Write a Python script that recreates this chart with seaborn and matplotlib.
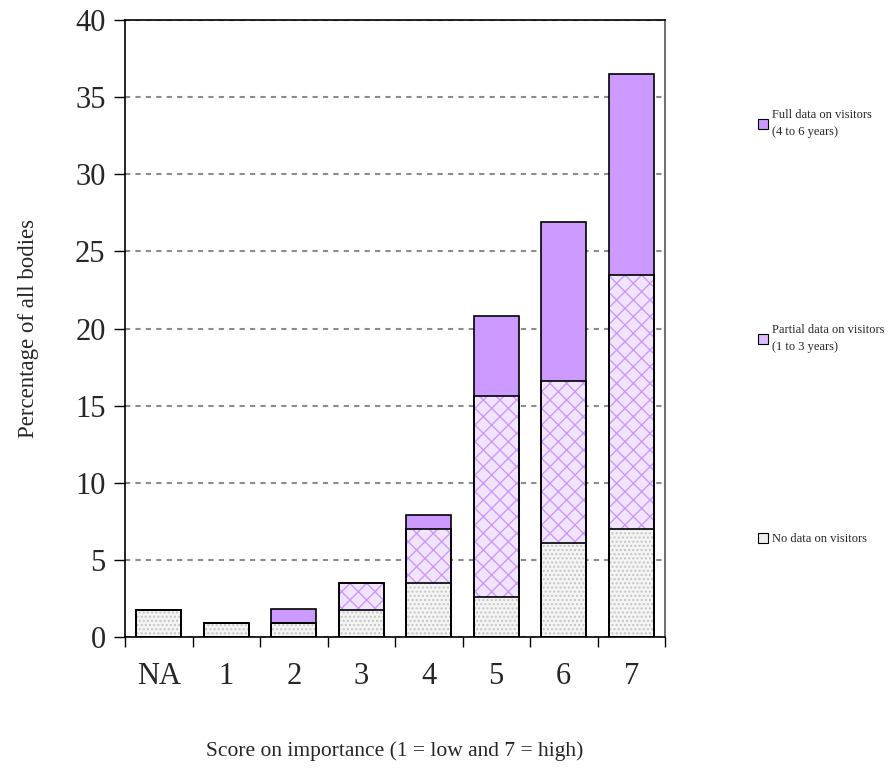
import pandas as pd
import seaborn as sns
from matplotlib import pyplot as plt
from matplotlib.patches import Patch

# values (percentage of all bodies)
scores = ["NA", "1", "2", "3", "4", "5", "6", "7"]
no_data = [1.75, 0.9, 0.9, 1.75, 3.5, 2.6, 6.1, 7.0]
partial_data = [0.0, 0.0, 0.0, 1.75, 3.5, 13.0, 10.5, 16.5]
full_data = [0.0, 0.0, 0.9, 0.0, 0.9, 5.2, 10.3, 13.0]

label_full = "Full data on visitors\n(4 to 6 years)"
label_partial = "Partial data on visitors\n(1 to 3 years)"
label_none = "No data on visitors"

sns.set_style("white")
plt.rcParams["font.family"] = ["Liberation Serif", "DejaVu Serif"]
plt.rcParams["hatch.linewidth"] = 1.0

df = pd.DataFrame({"score": scores, "none": no_data,
                   "partial": partial_data, "full": full_data})
df["top_partial"] = df["none"] + df["partial"]
df["top_full"] = df["top_partial"] + df["full"]

fig = plt.figure(figsize=(8.91, 7.78), dpi=100)
ax = fig.add_axes([125 / 891, 1 - 637 / 778, 540 / 891, 617 / 778])

bar_w = 0.66

# (column, facecolor, hatch, hatch colour) - tallest first so the shorter ones sit on top
layers = [
    ("top_full", "#CC99FF", None, "#CC99FF"),
    ("top_partial", "#F1E4FF", "xx", "#CC99FF"),
    ("none", "#F4F4F4", "....", "#C4C4C4"),
]

for col, face, hatch, hcol in layers:
    n0 = len(ax.patches)
    sns.barplot(data=df, x="score", y=col, order=scores, color=face,
                saturation=1, width=bar_w, ax=ax, errorbar=None)
    for p in ax.patches[n0:]:
        p.set_facecolor(face)
        p.set_edgecolor(hcol)
        p.set_linewidth(0)
        if hatch:
            p.set_hatch(hatch)
        p.set_zorder(2)

# black outlines for each segment
for col, face, hatch, hcol in layers:
    n0 = len(ax.patches)
    sns.barplot(data=df, x="score", y=col, order=scores, color="black",
                saturation=1, width=bar_w, ax=ax, errorbar=None)
    for p in ax.patches[n0:]:
        p.set_facecolor("none")
        p.set_edgecolor("black")
        p.set_linewidth(1.2)
        p.set_zorder(3)

ax.set_ylim(0, 40)
ax.set_xlim(-0.5, len(scores) - 0.5)
ax.set_yticks(range(0, 41, 5))
ax.yaxis.grid(True, linestyle=(0, (2.5, 2.5)), color="#8c8c8c", linewidth=1.5)
ax.xaxis.grid(False)
ax.set_axisbelow(True)

# x ticks sit between the categories
ax.set_xticks([i - 0.5 for i in range(len(scores) + 1)], minor=True)
ax.tick_params(axis="x", which="major", length=0, pad=18, labelsize=22)
ax.tick_params(axis="x", which="minor", length=7, width=1, direction="out",
               bottom=True, color="black")
ax.tick_params(axis="y", which="major", length=8, width=1, direction="out",
               left=True, labelsize=22, pad=6, color="black")

for side in ["left", "bottom", "top"]:
    ax.spines[side].set_color("black")
    ax.spines[side].set_linewidth(1.2)
ax.spines["right"].set_color("#555555")
ax.spines["right"].set_linewidth(1.2)

ax.set_xlabel("Score on importance (1 = low and 7 = high)", fontsize=15.5, labelpad=36)
ax.set_ylabel("Percentage of all bodies", fontsize=16.5, labelpad=26)

# legend entries are spread down the right hand side
entries = [
    (label_full, Patch(facecolor="#CC99FF", edgecolor="black", linewidth=0.8), 109),
    (label_partial, Patch(facecolor="#DDBBFF", edgecolor="black", linewidth=0.8), 324),
    (label_none, Patch(facecolor="#EEEEEE", edgecolor="black", linewidth=0.8), 533),
]
for text, handle, ypix in entries:
    leg = fig.legend(handles=[handle], labels=[text], loc="upper left",
                     bbox_to_anchor=(758 / 891, 1 - ypix / 778), frameon=False,
                     fontsize=9, handlelength=0.8, handleheight=0.8,
                     handletextpad=0.3, borderaxespad=0, borderpad=0)
    for t in leg.get_texts():
        t.set_linespacing(1.6)

fig.savefig("out.png", dpi=100)
